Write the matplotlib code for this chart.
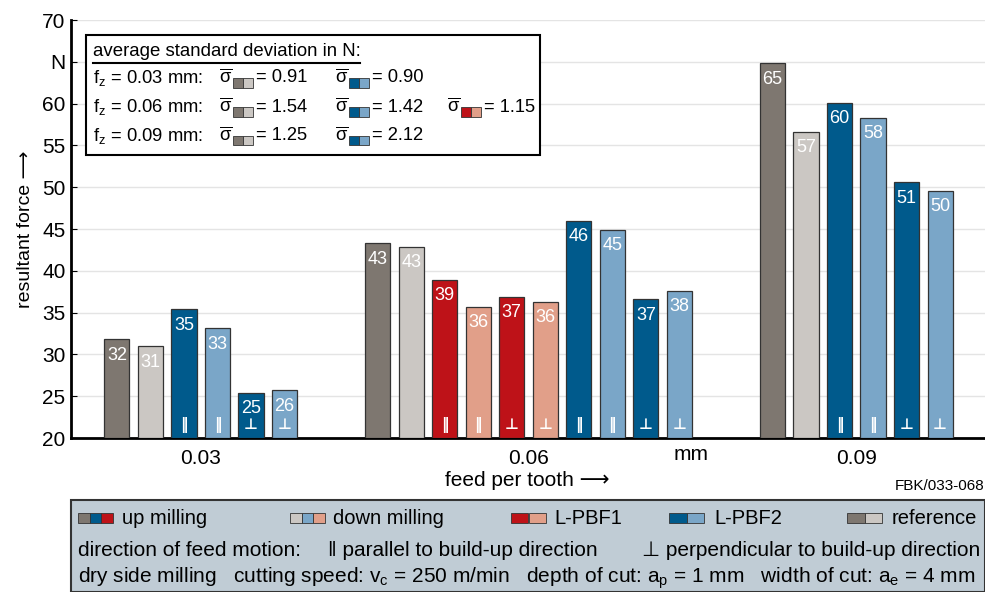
import matplotlib
matplotlib.use("Agg")
import matplotlib.pyplot as plt
from matplotlib.patches import Rectangle
import numpy as np

plt.rcParams['font.family'] = ['Liberation Sans', 'DejaVu Sans']
plt.rcParams['mathtext.fontset'] = 'custom'
plt.rcParams['mathtext.rm'] = 'Liberation Sans'
plt.rcParams['mathtext.it'] = 'Liberation Sans'

# colours
c_ref_up, c_ref_dn = '#7e7770', '#cbc7c3'
c_p1_up, c_p1_dn = '#be1218', '#e19f89'
c_p2_up, c_p2_dn = '#005a8c', '#7aa6c8'

# data
feeds = ['0.03', '0.06', '0.09']
force_003 = [31.8, 31.0, 35.4, 33.1, 25.4, 25.7]
force_006 = [43.3, 42.9, 38.9, 35.7, 36.9, 36.3, 46.0, 44.9, 36.6, 37.6]
force_009 = [64.8, 56.6, 60.1, 58.3, 50.6, 49.6]
colors_003 = [c_ref_up, c_ref_dn, c_p2_up, c_p2_dn, c_p2_up, c_p2_dn]
colors_006 = [c_ref_up, c_ref_dn, c_p1_up, c_p1_dn, c_p1_up, c_p1_dn,
              c_p2_up, c_p2_dn, c_p2_up, c_p2_dn]
colors_009 = colors_003
dir_003 = ['', '', '‖', '‖', '⊥', '⊥']
dir_006 = ['', '', '‖', '‖', '⊥', '⊥', '‖', '‖', '⊥', '⊥']
dir_009 = dir_003

sigma_rows = ['0.03', '0.06', '0.09']
sigma_ref = ['0.91', '1.54', '1.25']
sigma_p2 = ['0.90', '1.42', '2.12']
sigma_p1 = ['', '1.15', '']

W, H = 985, 592
def fx(x): return x / W
def fy(y): return 1 - y / H

fig = plt.figure(figsize=(9.85, 5.92), dpi=100)
ax = fig.add_axes([fx(71), fy(438), fx(985) - fx(71), fy(20) - fy(438)])

gap = 2.78
groups = [(force_003, colors_003, dir_003), (force_006, colors_006, dir_006),
          (force_009, colors_009, dir_009)]
start = 0
centers = []
for vals, cols, dirs in groups:
    xs = start + np.arange(len(vals))
    ax.bar(xs, np.array(vals) - 20, bottom=20, width=0.75, color=cols,
           edgecolor='#333333', linewidth=0.9, zorder=3)
    for x, v, d in zip(xs, vals, dirs):
        ax.annotate(f'{v:.0f}', (x, v), xytext=(0, -11.5), textcoords='offset points',
                    ha='center', va='center', color='white', fontsize=13, zorder=4)
        if d:
            ax.annotate(d, (x, 20), xytext=(0, 9.5), textcoords='offset points',
                        ha='center', va='center', color='white', fontsize=11,
                        fontweight='bold', family='DejaVu Sans', zorder=4)
    centers.append(xs.mean())
    start = xs[-1] + gap

ax.set_xlim(-1.37, 25.9)
ax.set_ylim(20, 70)
ax.set_yticks(np.arange(20, 71, 5))
ax.set_yticklabels([str(v) if v != 65 else 'N' for v in range(20, 71, 5)])
ax.set_xticks(centers)
ax.set_xticklabels(feeds)
ax.tick_params(axis='x', length=0, labelsize=15, pad=8)
ax.tick_params(axis='y', direction='in', length=4, labelsize=15, pad=4)
ax.grid(axis='y', color='#e4e4e4', linewidth=1, zorder=0)
for s in ['top', 'right']:
    ax.spines[s].set_visible(False)
ax.spines['left'].set_linewidth(2)
ax.spines['bottom'].set_linewidth(2)
ax.set_ylabel('resultant force ⟶', fontsize=14, labelpad=6)

fig.text(fx(527), fy(481), 'feed per tooth ⟶', ha='center', va='center', fontsize=15)
fig.text(fx(691), fy(455), 'mm', ha='center', va='center', fontsize=15)
fig.text(fx(984), fy(486), 'FBK/033-068', ha='right', va='center', fontsize=11)

# standard deviation box
fig.patches.append(Rectangle((fx(86), fy(155)), fx(540) - fx(86), fy(35) - fy(155),
                             transform=fig.transFigure, facecolor='white',
                             edgecolor='black', linewidth=1.5, zorder=5))
fig.text(fx(93), fy(51), 'average standard deviation in N:', ha='left', va='center',
         fontsize=13.4, zorder=6)
fig.add_artist(plt.Line2D([fx(93), fx(360)], [fy(63), fy(63)], color='black',
                          linewidth=1.5, transform=fig.transFigure, zorder=6))

def swatches(x0, ycen, cols, total, h, edge='#333333'):
    w = total / len(cols)
    for i, c in enumerate(cols):
        fig.patches.append(Rectangle((fx(x0 + i * w), fy(ycen + h / 2)), w / W, h / H,
                                     transform=fig.transFigure, facecolor=c,
                                     edgecolor=edge, linewidth=0.6, zorder=6))

row_y = [78, 107, 136]
for y, fz, sr, s2, s1 in zip(row_y, sigma_rows, sigma_ref, sigma_p2, sigma_p1):
    fig.text(fx(93), fy(y), rf'f$_{{\rm z}}$ = {fz} mm:', ha='left', va='center',
             fontsize=13.2, zorder=6)
    for xs, val, cols in [(219, sr, [c_ref_up, c_ref_dn]), (335, s2, [c_p2_up, c_p2_dn]),
                          (447, s1, [c_p1_up, c_p1_dn])]:
        if not val:
            continue
        fig.text(fx(xs), fy(y), r'$\overline{\sigma}$', ha='left', va='center',
                 fontsize=13.2, zorder=6)
        swatches(xs + 14, y + 5, cols, 20, 9)
        fig.text(fx(xs + 37), fy(y), f'= {val}', ha='left', va='center',
                 fontsize=13.2, zorder=6)

# bottom legend box
fig.patches.append(Rectangle((fx(71), fy(592)), fx(985) - fx(71), fy(500) - fy(592),
                             transform=fig.transFigure, facecolor='#c0ccd5',
                             edgecolor='#333333', linewidth=1.5, zorder=5))
ly = 518
legend_items = [(78, [c_ref_up, c_p2_up, c_p1_up], 'up milling', 122),
                (290, [c_ref_dn, c_p2_dn, c_p1_dn], 'down milling', 333),
                (511, [c_p1_up, c_p1_dn], 'L-PBF1', 554),
                (669, [c_p2_up, c_p2_dn], 'L-PBF2', 714),
                (847, [c_ref_up, c_ref_dn], 'reference', 892)]
for x0, cols, lab, xt in legend_items:
    swatches(x0, ly, cols, 35, 10)
    fig.text(fx(xt), fy(ly), lab, ha='left', va='center', fontsize=14.5, zorder=6)

fig.text(fx(78), fy(550), 'direction of feed motion:', ha='left', va='center',
         fontsize=15, zorder=6)
fig.text(fx(328), fy(550), '‖ parallel to build-up direction', ha='left', va='center',
         fontsize=15, zorder=6)
fig.text(fx(980), fy(550), '⊥ perpendicular to build-up direction', ha='right',
         va='center', fontsize=15, zorder=6)
fig.text(fx(78), fy(578),
         r'dry side milling   cutting speed: v$_{\rm c}$ = 250 m/min   '
         r'depth of cut: a$_{\rm p}$ = 1 mm   width of cut: a$_{\rm e}$ = 4 mm',
         ha='left', va='center', fontsize=15, zorder=6)

fig.savefig('out.png', dpi=100)
